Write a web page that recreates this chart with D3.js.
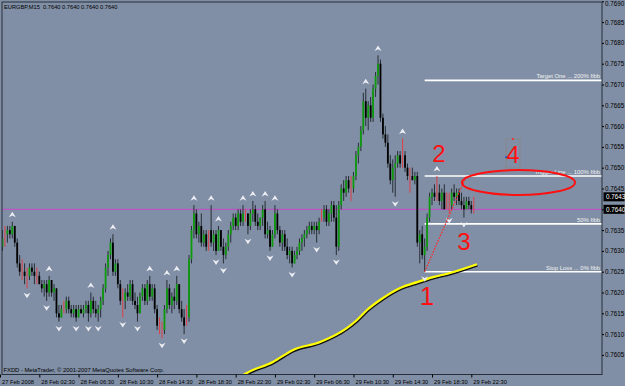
<!DOCTYPE html>
<html>
<head>
<meta charset="utf-8">
<script src="https://cdnjs.cloudflare.com/ajax/libs/d3/7.8.5/d3.min.js"></script>
<style>
  body { margin: 0; background: #808fa5; }
  svg { display: block; font-family: "Liberation Sans", Arial, sans-serif; }
</style>
</head>
<body>
<svg></svg>
<script>
/* EURGBP M15 bars, [open, high, low, close] in points (0.0001) */
var candles = [
  [7628,7632,7624,7631],[7631,7635,7630,7633],[7634,7636,7631,7634],[7634,7636,7632,7635],
  [7635,7636,7633,7634],[7634,7637,7633,7636],[7636,7636,7631,7632],[7632,7633,7626,7627],
  [7627,7629,7624,7625],[7625,7628,7623,7625],[7625,7627,7622,7624],[7624,7626,7621,7624],
  [7624,7627,7623,7626],[7626,7627,7624,7625],[7625,7627,7622,7624],[7624,7626,7622,7624],
  [7624,7625,7622,7622],[7622,7623,7620,7621],[7621,7623,7619,7622],[7622,7623,7618,7620],
  [7620,7624,7619,7623],[7623,7623,7619,7620],[7620,7622,7618,7621],[7621,7621,7614,7615],
  [7615,7617,7613,7614],[7614,7617,7614,7616],[7616,7618,7615,7616],[7616,7619,7615,7618],
  [7618,7619,7615,7616],[7616,7617,7614,7615],[7615,7617,7614,7616],[7616,7617,7613,7614],
  [7614,7617,7614,7616],[7616,7617,7615,7615],[7615,7617,7614,7616],[7616,7618,7615,7617],
  [7617,7618,7613,7615],[7615,7620,7614,7618],[7618,7619,7615,7616],[7616,7618,7614,7615],
  [7615,7617,7613,7616],[7616,7619,7614,7618],[7618,7622,7617,7621],[7621,7627,7620,7626],
  [7626,7630,7624,7629],[7629,7633,7628,7632],[7632,7634,7624,7625],[7625,7628,7624,7627],
  [7627,7628,7621,7622],[7622,7623,7617,7618],[7618,7621,7614,7618],[7618,7621,7616,7620],
  [7620,7622,7618,7619],[7619,7623,7618,7622],[7622,7623,7617,7618],[7618,7620,7616,7617],
  [7617,7619,7613,7615],[7615,7620,7615,7619],[7619,7622,7618,7621],[7621,7622,7617,7618],
  [7618,7623,7617,7622],[7622,7624,7618,7619],[7619,7622,7618,7621],[7621,7622,7615,7616],
  [7616,7617,7611,7612],[7612,7614,7610,7612],[7611,7613,7609,7611],[7611,7617,7610,7616],
  [7616,7623,7615,7621],[7621,7622,7616,7617],[7617,7620,7615,7619],[7619,7621,7616,7618],
  [7618,7624,7617,7622],[7622,7622,7615,7616],[7616,7618,7613,7614],[7614,7616,7610,7612],
  [7614,7617,7612,7614],[7614,7629,7613,7628],[7628,7636,7627,7635],[7635,7641,7633,7639],
  [7639,7640,7633,7634],[7634,7637,7632,7636],[7636,7639,7631,7632],[7632,7635,7631,7634],
  [7634,7635,7630,7631],[7633,7635,7630,7633],[7635,7641,7631,7632],[7632,7635,7630,7634],
  [7634,7635,7629,7630],[7630,7636,7630,7635],[7635,7635,7630,7631],[7631,7633,7627,7629],
  [7629,7632,7628,7631],[7631,7635,7630,7634],[7634,7637,7632,7636],[7636,7639,7635,7638],
  [7638,7639,7635,7636],[7636,7640,7635,7639],[7639,7640,7636,7637],[7637,7641,7636,7639],
  [7639,7640,7637,7639],[7639,7639,7634,7636],[7636,7640,7635,7639],[7639,7642,7637,7640],
  [7640,7641,7636,7637],[7637,7639,7635,7636],[7636,7638,7635,7638],[7638,7641,7636,7640],
  [7640,7642,7633,7634],[7634,7637,7633,7635],[7635,7636,7630,7631],[7631,7635,7631,7634],
  [7634,7641,7633,7639],[7639,7640,7634,7635],[7635,7636,7631,7632],[7632,7635,7630,7634],
  [7634,7635,7630,7631],[7631,7633,7628,7629],[7629,7631,7627,7630],[7630,7631,7626,7627],
  [7627,7630,7627,7629],[7629,7631,7628,7630],[7630,7633,7629,7632],[7632,7634,7630,7633],
  [7633,7635,7631,7634],[7634,7636,7633,7635],[7635,7637,7634,7636],[7636,7637,7634,7635],
  [7635,7637,7634,7636],[7636,7637,7632,7635],[7635,7638,7634,7637],[7638,7640,7637,7638],
  [7638,7641,7637,7640],[7640,7641,7636,7637],[7637,7640,7636,7639],[7639,7642,7637,7641],
  [7641,7642,7637,7638],[7638,7641,7629,7631],[7631,7642,7630,7641],[7641,7646,7640,7645],
  [7645,7647,7642,7644],[7644,7648,7643,7647],[7647,7648,7644,7645],[7645,7648,7642,7645],
  [7645,7649,7644,7648],[7648,7654,7647,7653],[7653,7656,7651,7655],[7655,7660,7654,7659],
  [7659,7668,7658,7666],[7666,7669,7660,7662],[7662,7666,7659,7665],[7665,7667,7661,7662],
  [7662,7670,7661,7669],[7669,7673,7667,7672],[7672,7677,7670,7675],[7675,7676,7661,7662],
  [7662,7663,7657,7658],[7658,7660,7655,7656],[7656,7658,7650,7651],[7651,7653,7646,7647],
  [7647,7652,7644,7650],[7650,7653,7643,7651],[7651,7654,7650,7653],[7653,7654,7650,7651],
  [7653,7657,7650,7653],[7653,7654,7649,7650],[7650,7651,7647,7648],[7648,7650,7644,7648],
  [7648,7650,7647,7647],[7647,7649,7646,7648],[7648,7649,7631,7632],[7632,7635,7627,7634],
  [7634,7636,7628,7629],[7629,7633,7625,7631],[7631,7639,7630,7638],[7638,7644,7637,7643],
  [7643,7645,7641,7644],[7644,7646,7642,7643],[7644,7648,7642,7644],[7644,7646,7641,7642],
  [7642,7645,7640,7644],[7644,7646,7640,7640],[7641,7644,7640,7641],[7641,7644,7639,7641],
  [7641,7645,7640,7644],[7644,7646,7642,7643],[7643,7645,7641,7644],[7644,7645,7641,7642],
  [7642,7644,7640,7641],[7641,7643,7638,7640],[7640,7643,7640,7642],[7642,7643,7640,7641],
  [7641,7642,7639,7640],[7640,7643,7639,7640]
];

/* bars carrying a Bill Williams fractal arrow */
var upFractals = [5, 20, 37, 46, 61, 68, 72, 79, 86, 89, 99, 103, 108, 112, 149, 154, 164, 178];
var downFractals = [11, 19, 24, 31, 36, 40, 50, 56, 66, 75, 88, 91, 101, 110, 119, 129, 137, 161, 173, 183, 189];

/* moving average (yellow), read at a few bars */
var maBars = [96.5, 99.8, 111.2, 119.4, 130.4, 141.4, 145.4, 149.5, 154.8, 163, 169.9, 176.4, 183.3, 194.3];
var maPrices = [0.7599, 0.76004, 0.76033, 0.76062, 0.76081, 0.76115, 0.76134, 0.76158, 0.76182, 0.76211, 0.76225, 0.76237, 0.76247, 0.76268];

var priceTicks = [0.7605, 0.7610, 0.7615, 0.7620, 0.7625, 0.7630, 0.7635, 0.7640, 0.7645, 0.7650,
  0.7655, 0.7660, 0.7665, 0.7670, 0.7675, 0.7680, 0.7685, 0.7690];
var priceBoxes = [0.7643, 0.7640];
var bidPrice = 0.7640;

var timeLabels = ["27 Feb 2008", "28 Feb 02:30", "28 Feb 06:30", "28 Feb 10:30", "28 Feb 14:30",
  "28 Feb 18:30", "28 Feb 22:30", "29 Feb 02:30", "29 Feb 06:30", "29 Feb 10:30", "29 Feb 14:30",
  "29 Feb 18:30", "29 Feb 22:30"];
var barsPerLabel = 16;

/* fibonacci tool: from bar 173 @0.7625 to bar 190 @0.7648 */
var fibBars = [173, 190];
var fibPrices = [0.7625, 0.7648];
var fibLevels = [0, 0.5, 1, 2];
var fibTexts = ["Stop Loss ... 0% fibb", "50% fibb", "Trigger Line ... 100% fibb", "Target One ... 200% fibb"];

var width = 625;
var height = 386;
var plotL = 2, plotR = 602, plotT = 2, plotB = 374.5;

var svg = d3.select("svg").attr("width", width).attr("height", height);

var xScale = d3.scaleLinear().domain([16, 192]).range([39.3, 471.3]);
var yScale = d3.scaleLinear().domain([0.7640, 0.7690]).range([209.3, 1.3]);
var price = function (v) { return v / 10000; };

/* background and clip */
svg.append("rect").attr("width", width).attr("height", height).attr("fill", "#808fa5");
svg.append("clipPath").attr("id", "plot")
  .append("rect").attr("x", plotL).attr("y", plotT).attr("width", plotR - plotL).attr("height", plotB - plotT);

var plot = svg.append("g").attr("clip-path", "url(#plot)");

/* bid line */
plot.append("line")
  .attr("x1", plotL).attr("x2", plotR)
  .attr("y1", yScale(bidPrice)).attr("y2", yScale(bidPrice))
  .attr("stroke", "#c848c8").attr("stroke-width", 1);

/* fib lines */
var fibPrice = function (lvl) { return fibPrices[0] + lvl * (fibPrices[1] - fibPrices[0]); };
plot.selectAll(".fib").data(fibLevels).enter().append("line")
  .attr("class", "fib")
  .attr("x1", xScale(fibBars[0])).attr("x2", plotR)
  .attr("y1", (d) => yScale(fibPrice(d))).attr("y2", (d) => yScale(fibPrice(d)))
  .attr("stroke", "#ffffff").attr("stroke-width", 1.6);
plot.selectAll(".fibtext").data(fibLevels).enter().append("text")
  .attr("x", 600).attr("y", (d) => yScale(fibPrice(d)) - 2)
  .attr("text-anchor", "end").attr("font-size", 5.9).attr("fill", "#f2f2f2")
  .text((d, i) => fibTexts[i]);

/* moving average with dark shadow */
var maPts = maBars.map((b, i) => [xScale(b), yScale(maPrices[i])]);
var maLine = d3.line().curve(d3.curveMonotoneX);
plot.append("path").attr("d", maLine(maPts)).attr("transform", "translate(0.6,1.6)")
  .attr("fill", "none").attr("stroke", "#111").attr("stroke-width", 1.6);
plot.append("path").attr("d", maLine(maPts))
  .attr("fill", "none").attr("stroke", "#ffff00").attr("stroke-width", 2.2);

/* candles */
var bars = plot.selectAll(".bar").data(candles).enter().append("g").attr("class", "bar");
bars.append("line")
  .attr("x1", (d, i) => xScale(i)).attr("x2", (d, i) => xScale(i))
  .attr("y1", (d) => yScale(price(d[1]))).attr("y2", (d) => yScale(price(d[2])))
  .attr("stroke", (d) => d[0] === d[3] ? "#e8383c" : "#1d2228")
  .attr("stroke-width", 0.9);
bars.filter((d) => d[0] !== d[3]).append("rect")
  .attr("x", (d) => xScale(candles.indexOf(d)) - 0.9)
  .attr("y", (d) => yScale(price(Math.max(d[0], d[3]))))
  .attr("width", 1.8)
  .attr("height", (d) => Math.max(1, Math.abs(yScale(price(d[0])) - yScale(price(d[3])))))
  .attr("fill", (d) => d[3] > d[0] ? "#0e9a0e" : "#000000");

/* fractal arrows */
plot.selectAll(".up").data(upFractals).enter().append("path")
  .attr("d", "M0,-3 L3.5,2.5 L0,0.8 L-3.5,2.5 Z")
  .attr("transform", (d) => "translate(" + xScale(d) + "," + (yScale(price(candles[d][1])) - 7) + ")")
  .attr("fill", "#eceef4");
plot.selectAll(".dn").data(downFractals).enter().append("path")
  .attr("d", "M0,3 L3.5,-2.5 L0,-0.8 L-3.5,-2.5 Z")
  .attr("transform", (d) => "translate(" + xScale(d) + "," + (yScale(price(candles[d][2])) + 7) + ")")
  .attr("fill", "#eceef4");

/* fib trend line (red dotted) */
plot.append("line")
  .attr("x1", xScale(fibBars[0])).attr("y1", yScale(fibPrices[0]))
  .attr("x2", xScale(fibBars[1])).attr("y2", yScale(fibPrices[1]))
  .attr("stroke", "#ff2828").attr("stroke-width", 1.2).attr("stroke-dasharray", "1.5,1.5");

/* hand drawn annotations */
plot.append("ellipse").attr("cx", 518.5).attr("cy", 182.5).attr("rx", 56.5).attr("ry", 12.5)
  .attr("fill", "none").attr("stroke", "#ff1010").attr("stroke-width", 2);
plot.append("rect").attr("x", 506).attr("y", 139).attr("width", 14).attr("height", 29)
  .attr("fill", "none").attr("stroke", "#8c8478").attr("stroke-width", 0.6);
plot.append("circle").attr("cx", 513).attr("cy", 139).attr("r", 1).attr("fill", "#ff2020");
plot.append("circle").attr("cx", 506).attr("cy", 157).attr("r", 0.9).attr("fill", "#2040ff");
var marks = [["1", 427, 305, 26], ["2", 439, 162, 24], ["3", 464, 250, 24], ["4", 513, 163, 24]];
plot.selectAll(".mark").data(marks).enter().append("text")
  .attr("x", (d) => d[1]).attr("y", (d) => d[2]).attr("font-size", (d) => d[3])
  .attr("text-anchor", "middle").attr("fill", "#ff1010").text((d) => d[0]);

/* texts in plot */
svg.append("text").attr("x", 4).attr("y", 8.5).attr("font-size", 5.7).attr("fill", "#000")
  .attr("xml:space", "preserve").text("EURGBP,M15  0.7640 0.7640 0.7640 0.7640");
svg.append("text").attr("x", 3.5).attr("y", 372).attr("font-size", 5.8).attr("fill", "#000")
  .text("FXDD - MetaTrader, \u00a9 2001-2007 MetaQuotes Software Corp.");

/* frame */
svg.append("rect").attr("x", plotL).attr("y", plotT).attr("width", plotR - plotL).attr("height", plotB - plotT)
  .attr("fill", "none").attr("stroke", "#27303a").attr("stroke-width", 1);

/* axises */
var yAxis = d3.axisRight(yScale).tickValues(priceTicks).tickSize(2).tickPadding(1)
  .tickFormat(d3.format(".4f"));
var gy = svg.append("g").attr("transform", "translate(" + plotR + ",0)").call(yAxis);
gy.select(".domain").remove();
gy.selectAll("text").attr("font-size", 6.3).attr("fill", "#000").attr("font-family", "Liberation Sans, Arial");
gy.selectAll("line").attr("stroke", "#000");
/* top label sits a little lower so it stays readable */
gy.selectAll(".tick").filter((d) => d === 0.7690).select("text").attr("dy", "0.62em");

var xAxis = d3.axisBottom(xScale)
  .tickValues(timeLabels.map((t, i) => i * barsPerLabel))
  .tickSize(3).tickPadding(2)
  .tickFormat((d, i) => timeLabels[i]);
var gx = svg.append("g").attr("transform", "translate(0," + plotB + ")").call(xAxis);
gx.select(".domain").remove();
gx.selectAll("text").attr("text-anchor", "start").attr("x", 1.5)
  .attr("font-size", 5.7).attr("fill", "#000").attr("font-family", "Liberation Sans, Arial");
gx.selectAll("line").attr("stroke", "#000");

/* price boxes on axis */
var boxes = svg.selectAll(".pbox").data(priceBoxes).enter().append("g")
  .attr("transform", (d) => "translate(" + (plotR + 1.5) + "," + yScale(d) + ")");
boxes.append("rect").attr("x", 0).attr("y", -4.5).attr("width", 21).attr("height", 9).attr("fill", "#000");
boxes.append("text").attr("x", 2.5).attr("y", 2.2).attr("font-size", 6.3).attr("fill", "#fff")
  .text((d) => d3.format(".4f")(d));
</script>
</body>
</html>
